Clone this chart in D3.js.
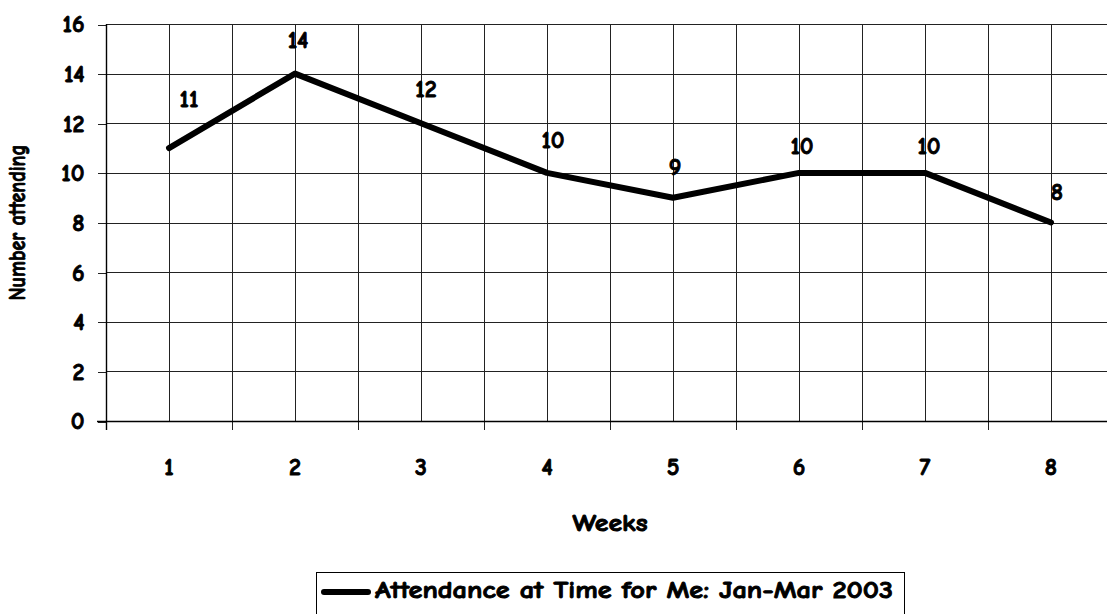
<!DOCTYPE html>
<html>
<head>
<meta charset="utf-8">
<script src="https://cdn.jsdelivr.net/npm/d3@7"></script>
<style>
  html, body { margin: 0; padding: 0; background: #fff; overflow: hidden; }
  svg { display: block; }
</style>
</head>
<body>
<svg id="chart" width="1107" height="614"></svg>
<script>
// Weekly attendance figures
const weeks = ["1", "2", "3", "4", "5", "6", "7", "8"];
const attendance = [11, 14, 12, 10, 9, 10, 10, 8];
const yTicks = [0, 2, 4, 6, 8, 10, 12, 14, 16];
const seriesName = "Attendance at Time for Me: Jan-Mar 2003";
const xTitle = "Weeks";
const yTitle = "Number attending";

// Hand-placed nudges for the value labels (px, relative to each point)
const labelNudge = [[20, -41], [3, -26], [5, -26], [6, -25], [2, -23], [3, -19], [4, -19], [6, -23]];

const FONT = '"Comic Sans MS", "Comic Neue", "DejaVu Sans", sans-serif';
const FONT_SIZE = 24;

// Shared text styling: heavy, slightly outlined hand-lettered look
function styleText(sel) {
  return sel
    .style("font-family", FONT)
    .style("font-weight", "bold")
    .style("font-size", FONT_SIZE + "px")
    .style("fill", "#000")
    .style("stroke", "#000")
    .style("stroke-width", "0.9px");
}

const svg = d3.select("#chart");
const plot = { left: 106, right: 1114, top: 24, bottom: 421 };

const x = d3.scaleBand().domain(weeks).range([plot.left, plot.right]).padding(0);
const y = d3.scaleLinear().domain([0, 16]).range([plot.bottom, plot.top]);
const cx = d => x(d) + x.bandwidth() / 2;
const crisp = v => Math.round(v) + 0.5;

const grid = svg.append("g").attr("stroke", "#222").attr("stroke-width", 1).attr("shape-rendering", "crispEdges");

// Horizontal gridlines
grid.selectAll("line.h").data(yTicks.filter(t => t > 0)).join("line")
  .attr("x1", plot.left).attr("x2", plot.right)
  .attr("y1", d => crisp(y(d))).attr("y2", d => crisp(y(d)));

// Vertical gridlines at category centres and category boundaries
const boundaries = weeks.map(w => x(w)).concat([plot.right]);
grid.selectAll("line.vc").data(weeks).join("line")
  .attr("x1", d => crisp(cx(d))).attr("x2", d => crisp(cx(d)))
  .attr("y1", plot.top).attr("y2", plot.bottom);
grid.selectAll("line.vb").data(boundaries.slice(1)).join("line")
  .attr("x1", d => crisp(d)).attr("x2", d => crisp(d))
  .attr("y1", plot.top).attr("y2", plot.bottom + 9);

// Y axis (ticks to the left, labels right-aligned)
const yAxis = d3.axisLeft(y).tickValues(yTicks).tickSize(9).tickPadding(13);
const gy = svg.append("g").attr("transform", `translate(${crisp(plot.left)},0)`).call(yAxis);
gy.attr("font-size", null).attr("font-family", null);
gy.select(".domain").remove();
gy.selectAll(".tick line").attr("stroke", "#222").attr("shape-rendering", "crispEdges")
  .attr("transform", "translate(0,0.5)");
gy.selectAll(".tick text").call(styleText).attr("dy", "0.33em");
svg.append("line").attr("x1", crisp(plot.left)).attr("x2", crisp(plot.left))
  .attr("y1", plot.top).attr("y2", plot.bottom + 9)
  .attr("stroke", "#000").attr("stroke-width", 1.4);

// X axis line and category labels
svg.append("line").attr("x1", plot.left - 9).attr("x2", plot.right)
  .attr("y1", crisp(plot.bottom)).attr("y2", crisp(plot.bottom))
  .attr("stroke", "#000").attr("stroke-width", 1.4);
const xAxis = d3.axisBottom(x).tickSize(0).tickPadding(0);
const gx = svg.append("g").attr("transform", `translate(0,${plot.bottom})`).call(xAxis);
gx.attr("font-size", null).attr("font-family", null);
gx.select(".domain").remove();
gx.selectAll(".tick text").call(styleText).attr("dy", null).attr("y", 54);

// Series line
const line = d3.line().x((d, i) => cx(weeks[i])).y(d => y(d));
svg.append("path").datum(attendance)
  .attr("d", line)
  .attr("fill", "none").attr("stroke", "#000").attr("stroke-width", 6)
  .attr("stroke-linejoin", "round").attr("stroke-linecap", "round");

// Value labels
svg.append("g").selectAll("text").data(attendance).join("text")
  .call(styleText)
  .attr("x", (d, i) => cx(weeks[i]) + labelNudge[i][0])
  .attr("y", (d, i) => y(d) + labelNudge[i][1])
  .attr("text-anchor", "middle")
  .text(d => d);

// Axis titles
svg.append("text").call(styleText).attr("x", (plot.left + plot.right) / 2).attr("y", 531)
  .attr("text-anchor", "middle").attr("textLength", 75).attr("lengthAdjust", "spacingAndGlyphs").text(xTitle);
svg.append("text").call(styleText)
  .attr("transform", `translate(25,${(plot.top + plot.bottom) / 2}) rotate(-90)`)
  .attr("text-anchor", "middle").attr("textLength", 156).attr("lengthAdjust", "spacingAndGlyphs").text(yTitle);

// Legend
const legend = svg.append("g");
legend.append("rect").attr("x", 316.5).attr("y", 572.5).attr("width", 588).attr("height", 60)
  .attr("fill", "#fff").attr("stroke", "#000").attr("stroke-width", 1);
legend.append("line").attr("x1", 324).attr("x2", 368).attr("y1", 592).attr("y2", 592)
  .attr("stroke", "#000").attr("stroke-width", 6).attr("stroke-linecap", "round");
legend.append("text").call(styleText).attr("x", 375).attr("y", 598)
  .attr("textLength", 518).attr("lengthAdjust", "spacingAndGlyphs").text(seriesName);
</script>
</body>
</html>
